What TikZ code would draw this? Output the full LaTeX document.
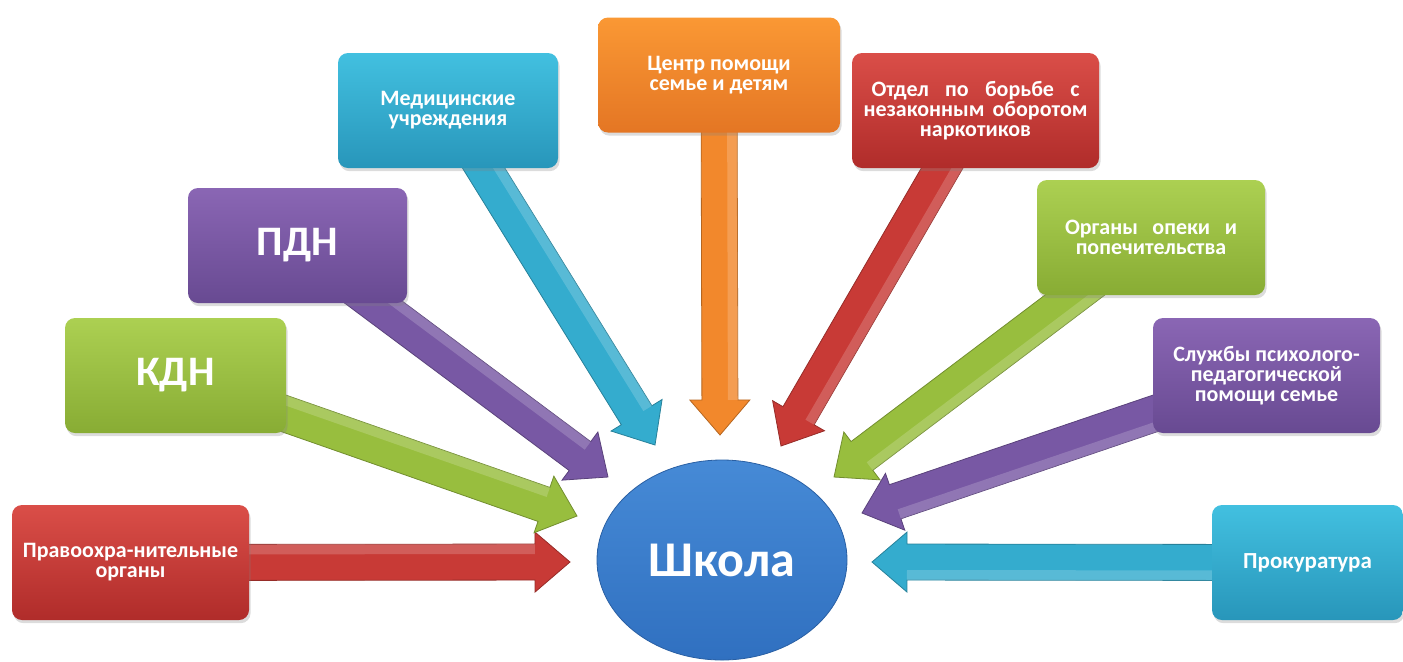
\documentclass[tikz,border=0pt]{standalone}
\usepackage{fontspec}
\setmainfont{Carlito}
\usetikzlibrary{calc,shapes.geometric,shadows,backgrounds}
\definecolor{redT}{RGB}{218,78,72}
\definecolor{redB}{RGB}{176,44,42}
\definecolor{redA}{RGB}{200,58,54}
\definecolor{grnT}{RGB}{172,208,82}
\definecolor{grnB}{RGB}{136,172,52}
\definecolor{grnA}{RGB}{152,190,62}
\definecolor{purT}{RGB}{138,102,180}
\definecolor{purB}{RGB}{104,74,146}
\definecolor{purA}{RGB}{120,88,164}
\definecolor{cyaT}{RGB}{66,192,224}
\definecolor{cyaB}{RGB}{40,150,186}
\definecolor{cyaA}{RGB}{52,172,206}
\definecolor{orgT}{RGB}{250,152,52}
\definecolor{orgB}{RGB}{228,118,36}
\definecolor{orgA}{RGB}{242,136,44}
\definecolor{bluT}{RGB}{70,138,214}
\definecolor{bluB}{RGB}{48,112,192}
\newcommand\blockarrow[3]{%
  \coordinate (hb) at ($(#2)!17.5pt!(#1)$);
  \fill[#3, draw=#3!75!black, line width=0.4pt, line join=miter]
    ($(#1)!9pt!90:(#2)$) -- ($(hb)!9pt!90:(#2)$) -- ($(hb)!15pt!90:(#2)$) -- (#2)
    -- ($(hb)!15pt!-90:(#2)$) -- ($(hb)!9pt!-90:(#2)$) -- ($(#1)!9pt!-90:(#2)$) -- cycle;
  \fill[white, opacity=0.18]
    ($(#1)!9pt!90:(#2)$) -- ($(hb)!9pt!90:(#2)$) -- ($(hb)!4pt!90:(#2)$) -- ($(#1)!4pt!90:(#2)$) -- cycle;
}
\tikzset{
  box/.style={rounded corners=5pt, minimum height=57.5pt, inner sep=2pt, text=white, align=center,
    font=\bfseries\fontsize{11}{10}\selectfont,
    drop shadow={shadow xshift=0.8pt, shadow yshift=-1.6pt, opacity=0.28}},
  bigtext/.style={font=\bfseries\fontsize{21}{24}\selectfont},
  fillred/.style={top color=redT, bottom color=redB},
  fillgrn/.style={top color=grnT, bottom color=grnB},
  fillpur/.style={top color=purT, bottom color=purB},
  fillcya/.style={top color=cyaT, bottom color=cyaB},
  fillorg/.style={top color=orgT, bottom color=orgB},
}
\begin{document}
\begin{tikzpicture}[x=0.5pt,y=-0.5pt]
\useasboundingbox (0,0) rectangle (1403,661);
% boxes
\node[box, fillred, minimum width=118.5pt] (pravo) at (130.5,562.5) {Правоохра-нительные\\органы};
\node[box, fillgrn, minimum width=110.5pt, bigtext] (kdn) at (175.5,375.5) {КДН};
\node[box, fillpur, minimum width=109.5pt, bigtext] (pdn) at (297.5,245.5) {ПДН};
\node[box, fillcya, minimum width=110pt] (med) at (448,110.5) {Медицинские\\учреждения};
\node[box, fillorg, minimum width=121pt] (centr) at (719,75) {Центр помощи\\семье и детям};
\node[box, fillred, minimum width=123.5pt] (otdel) at (975.5,110.5) {\makebox[104pt][s]{Отдел по борьбе с}\\\makebox[112pt][s]{незаконным оборотом}\\наркотиков};
\node[box, fillgrn, minimum width=114pt] (organy) at (1151,237.5) {\makebox[86pt][s]{Органы опеки и}\\попечительства};
\node[box, fillpur, minimum width=113.5pt] (sluzh) at (1266.5,375.5) {Службы психолого-\\педагогической\\помощи семье};
\node[box, fillcya, minimum width=95.5pt, font=\bfseries\fontsize{11.5}{12}\selectfont] (prok) at (1307.5,562.5) {Прокуратура};
% school
\node[ellipse, minimum width=125pt, minimum height=100pt, inner sep=0pt,
      top color=bluT, bottom color=bluB, draw=bluB!85!black, line width=0.4pt,
      text=white, font=\bfseries\fontsize{25}{28}\selectfont] (school) at (722,560) {Школа};
% arrow tips
\coordinate (tpravo) at (570,562);
\coordinate (tkdn) at (577,516);
\coordinate (tpdn) at (608,477);
\coordinate (tmed) at (655,445);
\coordinate (tcentr) at (720,435);
\coordinate (totdel) at (781,446);
\coordinate (torg) at (834,477);
\coordinate (tsl) at (862,513);
\coordinate (tprok) at (872,562);
\begin{scope}[on background layer]
\blockarrow{pravo.center}{tpravo}{redA}
\blockarrow{kdn.center}{tkdn}{grnA}
\blockarrow{pdn.center}{tpdn}{purA}
\blockarrow{med.center}{tmed}{cyaA}
\blockarrow{centr.center}{tcentr}{orgA}
\blockarrow{otdel.center}{totdel}{redA}
\blockarrow{organy.center}{torg}{grnA}
\blockarrow{sluzh.center}{tsl}{purA}
\blockarrow{prok.center}{tprok}{cyaA}
\end{scope}
\end{tikzpicture}
\end{document}
